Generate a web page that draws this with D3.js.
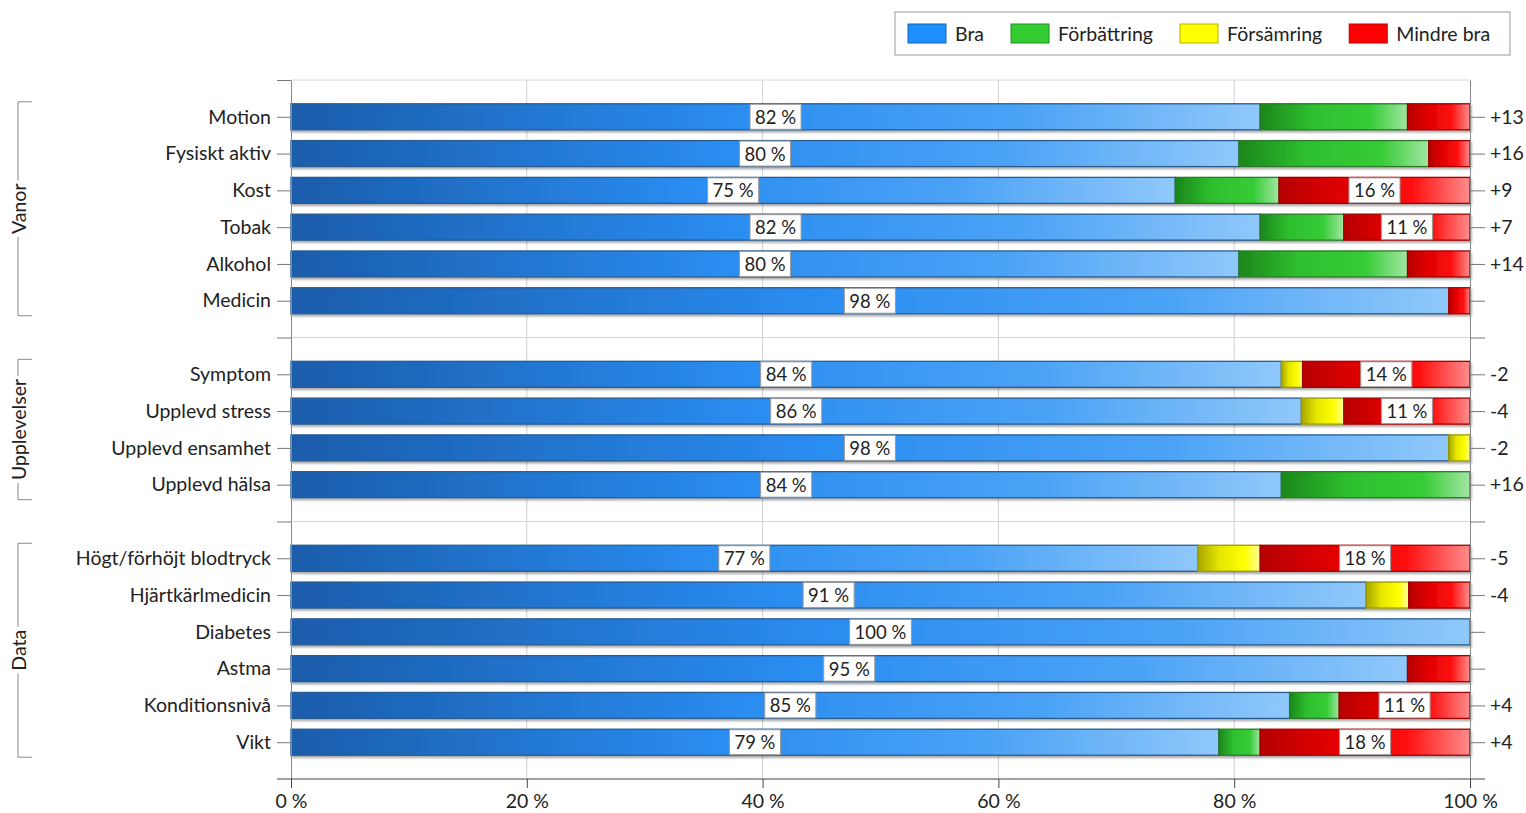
<!DOCTYPE html>
<html lang="sv">
<head>
<meta charset="UTF-8">
<title>Levnadsvanor</title>
<style>
    body { margin: 0; background: #fff; }
    svg { display: block; font-family: Lato, "Open Sans", sans-serif; }
</style>
</head>
<body>
<script src="https://cdnjs.cloudflare.com/ajax/libs/d3/7.8.5/d3.min.js"></script>
<script>

// categories per group
const vanor = ["Motion", "Fysiskt aktiv", "Kost", "Tobak", "Alkohol", "Medicin"]
const upplevelser = ["Symptom", "Upplevd stress", "Upplevd ensamhet", "Upplevd hälsa"]
const dataRows = ["Högt/förhöjt blodtryck", "Hjärtkärlmedicin", "Diabetes", "Astma", "Konditionsnivå", "Vikt"]
const groupNames = ["Vanor", "Upplevelser", "Data"]

// series values, % (same order as categories above)
const bra         = [82.2, 80.4, 75.0, 82.2, 80.4, 98.2, 84.0, 85.7, 98.2, 84.0, 76.9, 91.2, 100, 94.7, 84.7, 78.7]
const forbattring = [12.5, 16.1,  8.8,  7.1, 14.3,  0,    0,    0,    0,   16.0,  0,    0,    0,   0,    4.2,  3.5]
const forsamring  = [ 0,    0,    0,    0,    0,    0,    1.8,  3.6,  1.8,  0,    5.3,  3.6,  0,   0,    0,    0  ]
const mindreBra   = [ 5.3,  3.5, 16.2, 10.7,  5.3,  1.8, 14.2, 10.7,  0,    0,   17.8,  5.2,  0,   5.3, 11.1, 17.8]

// change labels on the right axis
const changeLabels = ["+13", "+16", "+9", "+7", "+14", "", "-2", "-4", "-2", "+16", "-5", "-4", "", "", "+4", "+4"]

const seriesNames = ["Bra", "Förbättring", "Försämring", "Mindre bra"]
const xTicks = [0, 20, 40, 60, 80, 100]

let width = 1526, height = 813
let fs = 19.5

let svg = d3.select("body").append("svg")
    .attr("width", width)
    .attr("height", height)

let groups = [vanor, upplevelser, dataRows]
let categories = [].concat(...groups)

// row keys incl. blank spacer rows between groups
let rowKeys = ["_top"]
groups.forEach((g, i) => {
    if (i > 0) rowKeys.push("_gap" + i)
    rowKeys.push(...g)
})
rowKeys.push("_bottom")

let x = d3.scaleLinear().domain([0, 100]).range([291, 1470])
let y = d3.scalePoint().domain(rowKeys).range([80, 779])
let barH = 26

let keys = ["bra", "forb", "fors", "mindre"]
let table = categories.map((c, i) => ({
    cat: c, bra: bra[i], forb: forbattring[i], fors: forsamring[i], mindre: mindreBra[i], change: changeLabels[i]
}))
let stacked = d3.stack().keys(keys)(table)

// gradients
let defs = svg.append("defs")
let grads = {
    bra:    [["0", "#1a5cab"], ["0.45", "#2a8cf0"], ["0.75", "#4aa2f6"], ["1", "#90c8fa"]],
    forb:   [["0", "#1b861b"], ["0.35", "#2ebf2e"], ["0.75", "#36cc36"], ["1", "#a2e6a2"]],
    fors:   [["0", "#a6a600"], ["0.35", "#e6e600"], ["0.75", "#ffff00"], ["1", "#ffff99"]],
    mindre: [["0", "#b50000"], ["0.3", "#dd0000"], ["0.7", "#ff1010"], ["1", "#ff8c8c"]]
}
let strokes = { bra: "#2a5c90", forb: "#2a7a2a", fors: "#9a9a00", mindre: "#a00000" }
let solid = { bra: "#1e8fff", forb: "#33cc33", fors: "#ffff00", mindre: "#ff0000" }

Object.keys(grads).forEach(k => {
    let g = defs.append("linearGradient").attr("id", "g-" + k)
    grads[k].forEach(s => g.append("stop").attr("offset", s[0]).attr("stop-color", s[1]))
})
let f = defs.append("filter").attr("id", "shadow").attr("x", "-5%").attr("y", "-20%").attr("width", "110%").attr("height", "160%")
f.append("feDropShadow").attr("dx", 1).attr("dy", 2).attr("stdDeviation", 1).attr("flood-color", "#000").attr("flood-opacity", 0.35)

// grid
svg.append("g").selectAll("line")
    .data(xTicks.filter(d => d > 0 && d < 100))
    .join("line")
    .attr("x1", d => x(d)).attr("x2", d => x(d))
    .attr("y1", 80).attr("y2", 779)
    .attr("stroke", "#d0d0d0")

svg.append("g").selectAll("line")
    .data(rowKeys.filter(k => k[0] == "_" && k != "_bottom"))
    .join("line")
    .attr("x1", x(0)).attr("x2", x(100))
    .attr("y1", d => y(d)).attr("y2", d => y(d))
    .attr("stroke", "#d6d6d6")

// bars
let barLayer = svg.append("g").attr("filter", "url(#shadow)")
stacked.forEach(s => {
    barLayer.append("g").selectAll("rect")
        .data(s.filter(d => d[1] - d[0] > 0))
        .join("rect")
        .attr("x", d => x(d[0]))
        .attr("y", d => y(d.data.cat) - barH / 2)
        .attr("width", d => x(d[1]) - x(d[0]))
        .attr("height", barH)
        .attr("fill", "url(#g-" + s.key + ")")
        .attr("stroke", strokes[s.key])
        .attr("stroke-width", 1.3)
})

// value labels (Bra always, Mindre bra when big enough)
let labelLayer = svg.append("g")
stacked.filter(s => s.key == "bra" || s.key == "mindre").forEach(s => {
    s.filter(d => s.key == "bra" || d[1] - d[0] >= 10).forEach(d => {
        let cx = (x(d[0]) + x(d[1])) / 2
        let cy = y(d.data.cat)
        let g = labelLayer.append("g")
        let rect = g.append("rect")
        let t = g.append("text")
            .attr("x", cx).attr("y", cy)
            .attr("text-anchor", "middle")
            .attr("dominant-baseline", "central")
            .attr("font-size", 18.5)
            .attr("fill", "#222")
            .text(Math.round(d[1] - d[0]) + " %")
        let w = t.node().getComputedTextLength() + 10
        rect.attr("x", cx - w / 2).attr("y", cy - 12.5).attr("width", w).attr("height", 25)
            .attr("fill", "#fff").attr("stroke", "#9a9a9a")
    })
})

// axes
let leftAxis = svg.append("g")
    .attr("transform", `translate(${x(0)},0)`)
    .call(d3.axisLeft(y).tickSize(14).tickSizeOuter(0).tickPadding(6)
        .tickFormat(d => d[0] == "_" ? "" : d))
leftAxis.selectAll(".tick").filter(d => d == "_bottom").remove()

let changeOf = new Map(table.map(d => [d.cat, d.change]))
let rightAxis = svg.append("g")
    .attr("transform", `translate(${x(100)},0)`)
    .call(d3.axisRight(y).tickSize(15).tickSizeOuter(0).tickPadding(5)
        .tickFormat(d => changeOf.get(d) || ""))
rightAxis.selectAll(".tick").filter(d => d == "_bottom" || d == "_top").remove()

let bottomAxis = svg.append("g")
    .attr("transform", `translate(0,${y("_bottom")})`)
    .call(d3.axisBottom(x).tickValues(xTicks).tickSize(9).tickSizeOuter(0).tickPadding(6)
        .tickFormat(d => d + " %"))
bottomAxis.select(".domain").remove()
svg.append("line")
    .attr("x1", 277).attr("x2", 1485)
    .attr("y1", y("_bottom")).attr("y2", y("_bottom"))
    .attr("stroke", "#444")

;[leftAxis, rightAxis, bottomAxis].forEach(a => {
    a.attr("font-family", null).attr("font-size", fs)
    a.selectAll("text").attr("fill", "#222")
    a.selectAll("line").attr("stroke", "#777")
    a.select(".domain").attr("stroke", "#888")
})
bottomAxis.selectAll("line").attr("stroke", "#444")

// group brackets
groups.forEach((g, i) => {
    let y0 = y(g[0]) - 15, y1 = y(g[g.length - 1]) + 15
    let bx = 18
    let b = svg.append("g")
    b.append("path")
        .attr("d", `M${bx + 14},${y0}H${bx}V${y1}H${bx + 14}`)
        .attr("fill", "none").attr("stroke", "#888")
    let cy = (y0 + y1) / 2
    let t = b.append("text")
        .attr("transform", `translate(${bx},${cy}) rotate(-90)`)
        .attr("text-anchor", "middle")
        .attr("dominant-baseline", "central")
        .attr("font-size", fs)
        .attr("fill", "#222")
        .text(groupNames[i])
    let w = t.node().getComputedTextLength() + 6
    b.insert("rect", "text")
        .attr("x", bx - 3).attr("y", cy - w / 2)
        .attr("width", 6).attr("height", w)
        .attr("fill", "#fff")
})

// legend
let legend = svg.append("g")
legend.append("rect")
    .attr("x", 895).attr("y", 12).attr("width", 615).attr("height", 43)
    .attr("fill", "#fff").attr("stroke", "#999")
let lx = 908
keys.forEach((k, i) => {
    legend.append("rect")
        .attr("x", lx).attr("y", 24).attr("width", 38).attr("height", 19)
        .attr("fill", solid[k]).attr("stroke", d3.color(solid[k]).darker(1))
    let t = legend.append("text")
        .attr("x", lx + 47).attr("y", 33.5)
        .attr("dominant-baseline", "central")
        .attr("font-size", fs)
        .attr("fill", "#222")
        .text(seriesNames[i])
    lx += 47 + t.node().getComputedTextLength() + 27
})

</script>
</body>
</html>
